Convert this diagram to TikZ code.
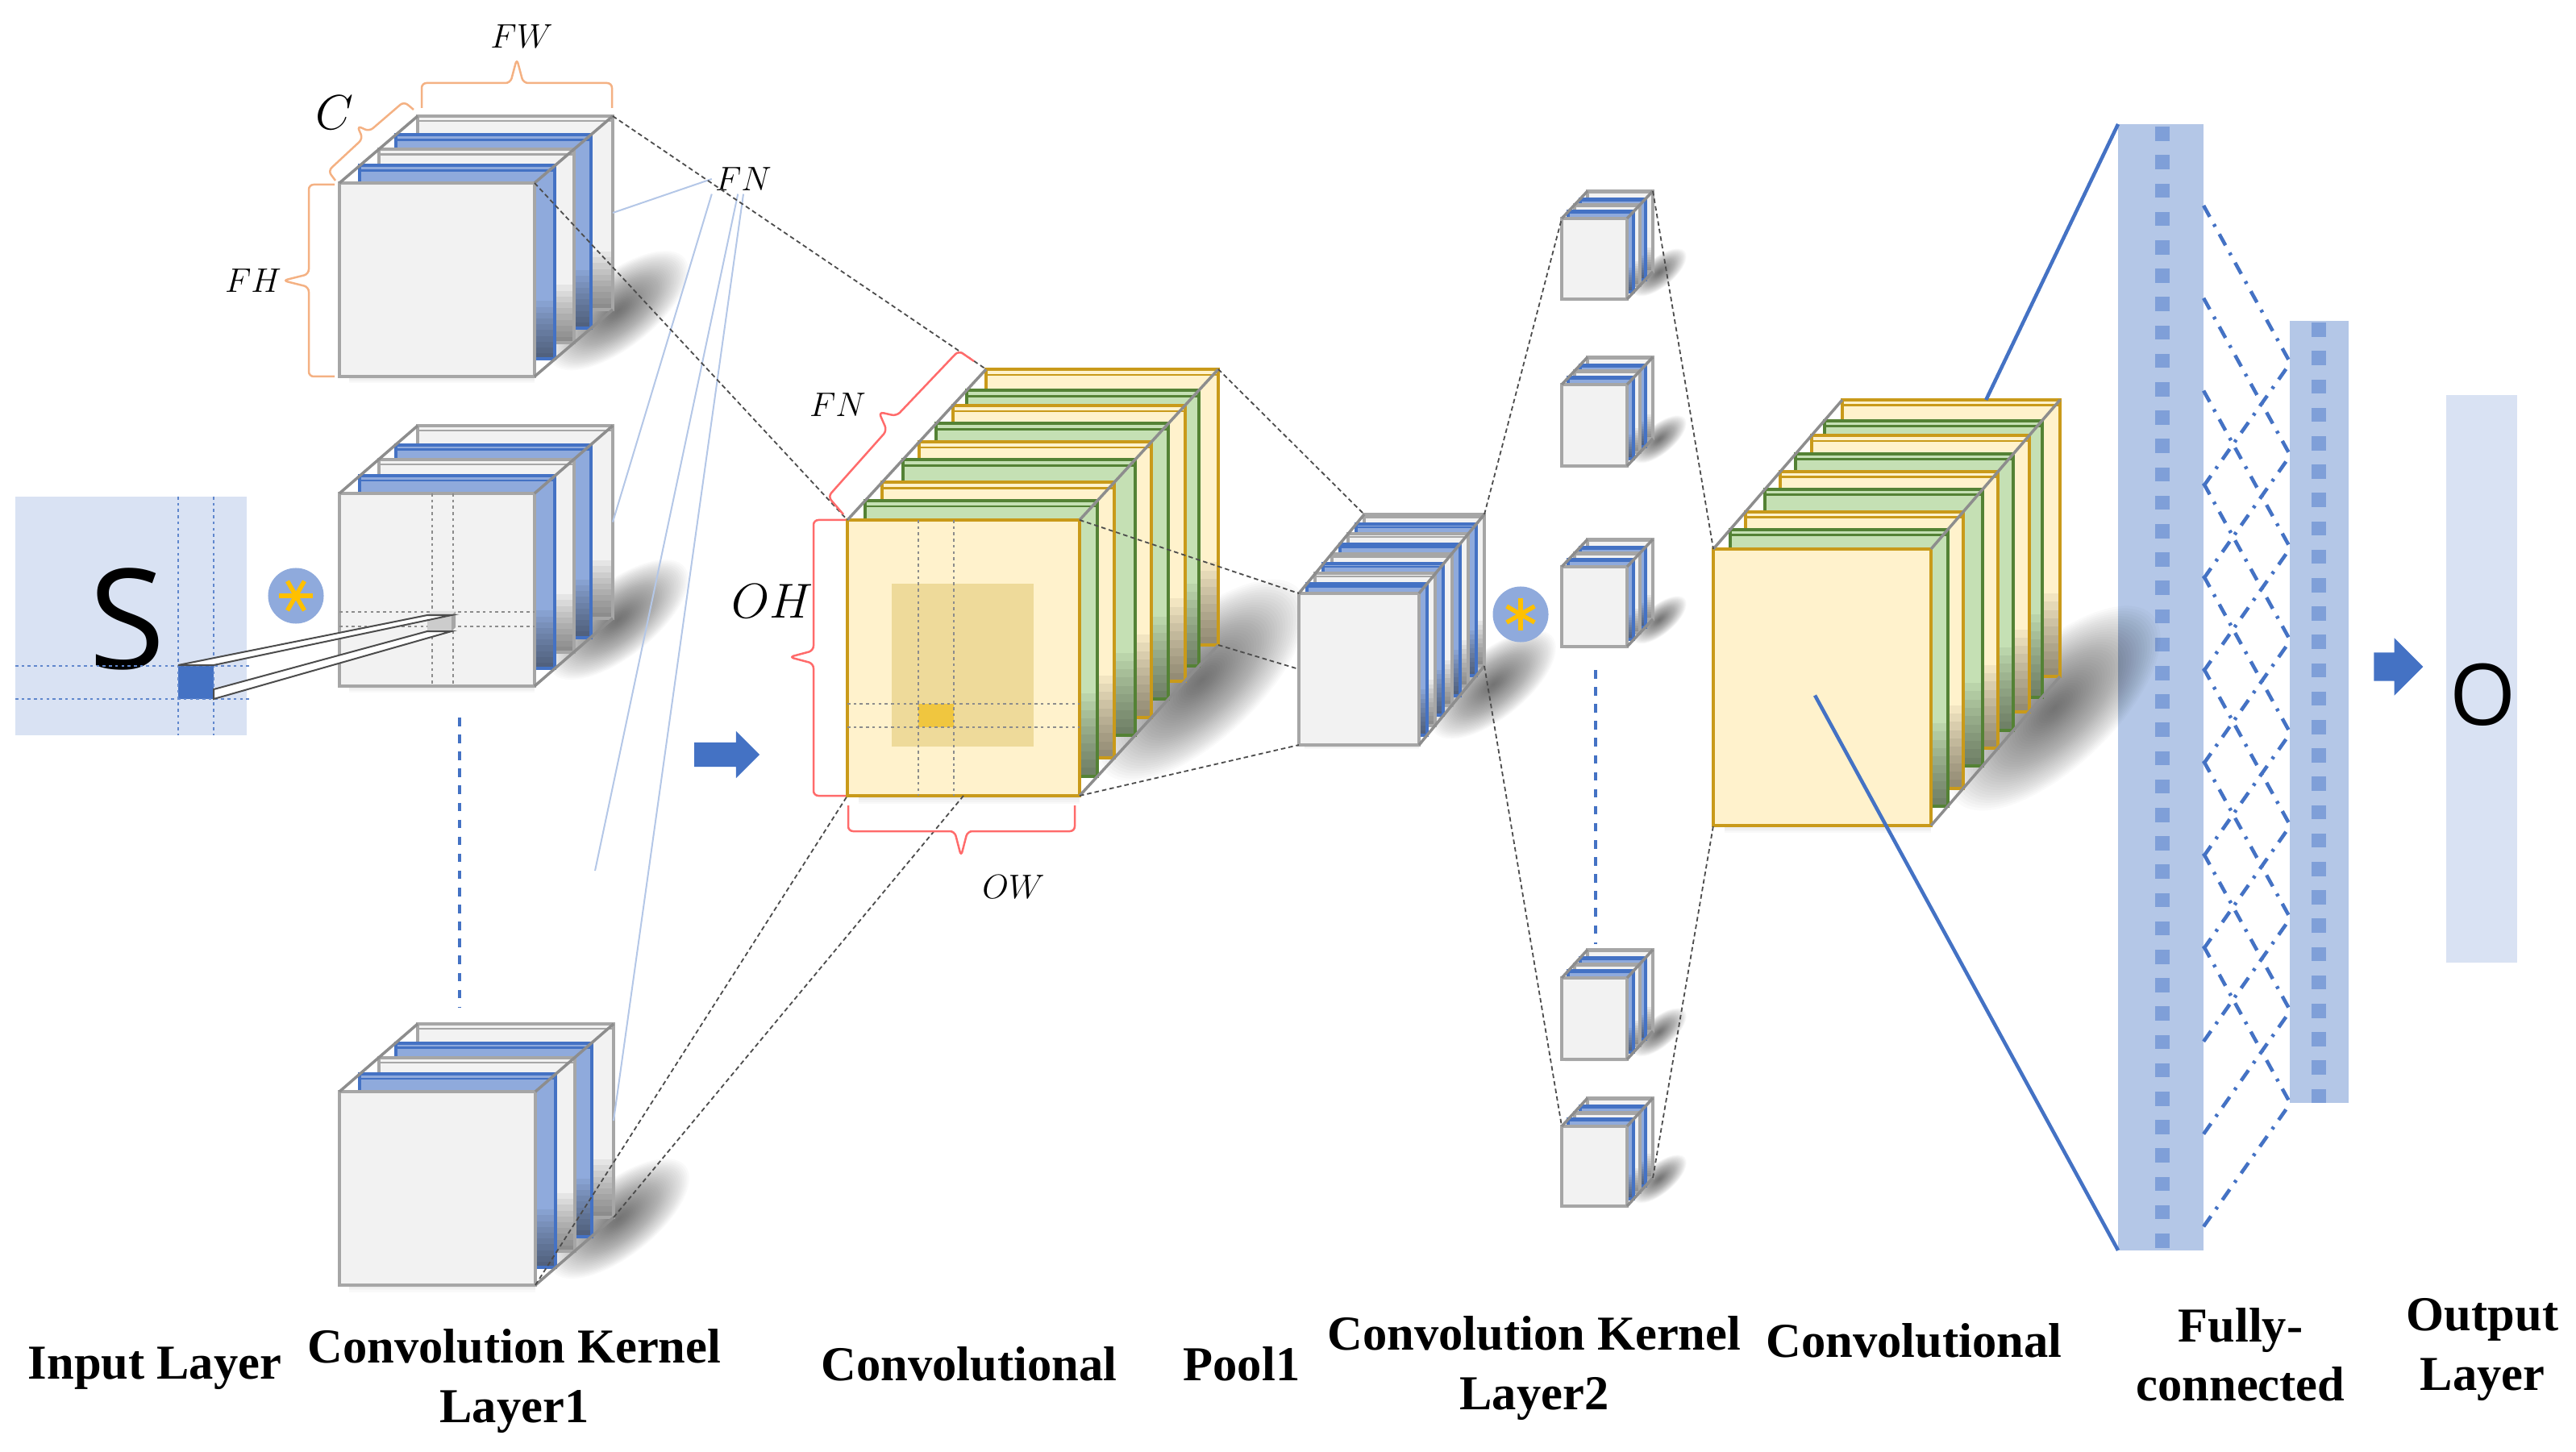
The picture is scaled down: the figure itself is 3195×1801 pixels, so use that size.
\documentclass[tikz,border=0pt]{standalone}
\usepackage{fontspec}
\setmainfont{Liberation Serif}
\newfontfamily\glyphfont{Open Sans}
\usetikzlibrary{calc,shapes.arrows}
\definecolor{inputblue}{HTML}{D9E2F3}
\definecolor{barblue}{HTML}{B4C7E7}
\definecolor{cellblue}{HTML}{7F9FD8}
\definecolor{edgeblue}{HTML}{4472C4}
\definecolor{fillblue}{HTML}{8FAADC}
\definecolor{edgegrey}{HTML}{A6A6A6}
\definecolor{fillgrey}{HTML}{F2F2F2}
\definecolor{edgegold}{HTML}{C99A1A}
\definecolor{fillcream}{HTML}{FFF2CC}
\definecolor{edgegreen}{HTML}{548235}
\definecolor{fillgreen}{HTML}{C5E0B4}
\definecolor{braceorange}{HTML}{F4B183}
\definecolor{bracered}{HTML}{FF6B6B}
\definecolor{windowgold}{HTML}{EEDA9A}
\definecolor{hitgold}{HTML}{F0C63F}
\definecolor{stargold}{HTML}{FFC000}
\tikzset{
  plate/.style 2 args={draw=#1, fill=#2, line width=.04cm, inner sep=0pt, outer sep=0pt, anchor=north west,
    path picture={
      \foreach \share in {.03,.06,.09,.12,.15,.18,.21,.24,.27,.30}
        \fill[black, opacity=.05]
          ($(path picture bounding box.south west)!\share!(path picture bounding box.north east)$)
          rectangle (path picture bounding box.south east);
      \draw[#1, line width=.025cm]
        ([yshift=-\plategap*.01cm]path picture bounding box.north west) --
        ([yshift=-\plategap*.01cm]path picture bounding box.north east);
    }},
  frontplate/.style 2 args={draw=#1, fill=#2, line width=.045cm, inner sep=0pt, outer sep=0pt, anchor=north west},
  greyplate/.style={plate={edgegrey}{fillgrey}},
  blueplate/.style={plate={edgeblue}{fillblue}},
  yellowplate/.style={plate={edgegold}{fillcream}},
  greenplate/.style={plate={edgegreen}{fillgreen}},
  greyfront/.style={frontplate={edgegrey}{fillgrey}},
  yellowfront/.style={frontplate={edgegold}{fillcream}},
  stackedge/.style={edgegrey!85!black, line width=.035cm},
  bar/.style={inner sep=0pt, outer sep=0pt, anchor=north west},
  barcell/.style={fill=cellblue, inner sep=0pt, minimum width=.18cm, minimum height=.175cm},
  blockarrow/.style={single arrow, fill=edgeblue, inner sep=0pt, text width=0pt, text depth=0pt, single arrow head indent=0pt},
  starcircle/.style={circle, fill=fillblue, inner sep=0pt, minimum size=.69cm},
  starline/.style={draw=stargold, line width=.055cm},
  guide/.style={draw=black!70, line width=.018cm, dash pattern=on 1.6pt off 1.1pt},
  gridline/.style={black!45, line width=.012cm, dash pattern=on 1pt off 1.2pt},
  griddot/.style={edgeblue!85, line width=.018cm, dash pattern=on 1pt off 1.2pt},
  faintline/.style={barblue, line width=.02cm},
  mainline/.style={edgeblue, line width=.045cm},
  dropline/.style={edgeblue, line width=.045cm, dashed},
  linkline/.style={edgeblue, line width=.045cm, dash pattern=on 4.5pt off 3pt on 1pt off 3pt},
  tube/.style={fill=white, draw=black!70, line width=.02cm},
  brace/.style={line width=.025cm, rounded corners=.06cm},
  layername/.style={font=\fontsize{17.2}{20.8}\selectfont\bfseries, align=center, inner sep=0pt},
  dimname/.style={inner sep=1pt, font=\fontsize{12}{14}\selectfont},
  bigdimname/.style={inner sep=1pt, font=\fontsize{17.28}{20}\selectfont},
}
\newcommand{\kernelplates}{1/greyplate/b, .72/blueplate/p3, .5/greyplate/p2, .26/blueplate/p1, 0/greyfront/f}
\newcommand{\convplates}{1/yellowplate/b, .86/greenplate/p7, .76/yellowplate/p6, .64/greenplate/p5, .52/yellowplate/p4, .40/greenplate/p3, .25/yellowplate/p2, .13/greenplate/p1, 0/yellowfront/f}
\newcommand{\poolplates}{1/greyplate/b, .875/blueplate/p7, .75/greyplate/p6, .625/blueplate/p5, .5/greyplate/p4, .375/blueplate/p3, .25/greyplate/p2, .125/blueplate/p1, 0/greyfront/f}
% name, left, top, width, height, depth x, depth y, plates, tip of the shadow
\newcommand{\platestack}[9]{
  \pgfmathsetmacro{\backx}{#2+#4+#6}
  \pgfmathsetmacro{\backy}{#3+#5+#7}
  \pgfmathsetmacro{\tipx}{\backx+{#9}[0]}
  \pgfmathsetmacro{\tipy}{\backy+{#9}[1]}
  \pgfmathsetmacro{\spanlen}{veclen(\tipx-#2-#4,\tipy-#3-#5)}
  \pgfmathsetmacro{\spanang}{atan2(#3+#5-\tipy,\tipx-#2-#4)}
  \pgfmathsetmacro{\midx}{.42*(#2+#4)+.58*\tipx}
  \pgfmathsetmacro{\midy}{.42*(#3+#5)+.58*\tipy}
  \pgfmathsetmacro{\plategap}{.025*#4}
  \foreach \k in {1,...,40}
    \fill[black, opacity=.02, rotate around={\spanang:(\midx,\midy)}]
      (\midx,\midy) ellipse ({\k/40*.46*\spanlen} and {\k/40*.2*\spanlen});
  \foreach \share in {.25,.5,.75,1}
    \draw[black, opacity=.025, line width=\share*.07*#4*.01cm]
      (#2+.05*#4,#3+#5) -- (#2+#4,#3+#5);
  \foreach \pos/\look/\nam in #8
    \node[\look, minimum width=#4*.01cm, minimum height=#5*.01cm] (#1-\nam) at (#2+\pos*#6,#3+\pos*#7) {};
  \draw[stackedge] (#1-f.north west) -- (#1-b.north west);
  \draw[stackedge] (#1-f.north east) -- (#1-b.north east);
  \draw[stackedge] (#1-f.south east) -- (#1-b.south east);
}
\begin{document}
\begin{tikzpicture}[x=.01cm, y=-.01cm]
\useasboundingbox (0,0) rectangle (3195,1801);

% Input layer
\node[bar, fill=inputblue, minimum width=2.87cm, minimum height=2.96cm] (input) at (19,616) {};
\node[font=\glyphfont\fontsize{49}{49}\selectfont, inner sep=0pt] (letterS) at (158,768) {S};
\node[bar, fill=edgeblue, minimum width=.44cm, minimum height=.42cm] (patch) at (221,825) {};
\foreach \xpos in {221,265}
  \draw[griddot] (\xpos,616) -- (\xpos,912);
\foreach \ypos in {826,867}
  \draw[griddot] (19,\ypos) -- (310,\ypos);

% Fully-connected bars
\node[bar, fill=barblue, minimum width=1.06cm, minimum height=13.96cm] (fcA) at (2627,154) {};
\node[bar, fill=barblue, minimum width=.73cm, minimum height=9.69cm] (fcB) at (2840,398) {};
\node[bar, fill=inputblue, minimum width=.88cm, minimum height=7.04cm] (output) at (3034,490) {};
\foreach \k in {0,...,39}
  \node[barcell] (cellA\k) at (2682,166+\k*35.2) {};
\foreach \k in {0,...,27}
  \node[barcell] (cellB\k) at (2876,409+\k*35.2) {};
\node[font=\glyphfont\fontsize{30}{30}\selectfont, inner sep=0pt] (letterO) at (3080,862) {O};
\foreach \k in {0,...,8} {
  \draw[linkline] ($(fcA.north east)+(0,101+\k*114.8)$) -- ($(fcB.north west)+(0,51+\k*114.8)$);
  \draw[linkline] ($(fcA.north east)+(0,449+\k*114.8)$) -- ($(fcB.north west)+(0,53+\k*114.8)$);
}

% FN leader lines
\node[dimname] (fnkernel) at (922,222) {$FN$};
\coordinate (fnend) at (738,1080);
\coordinate (dotsAtop) at (570,890);
\coordinate (dotsAbot) at (570,1250);
\coordinate (dotsBtop) at (1979,831);
\coordinate (dotsBbot) at (1979,1171);

% Kernel stacks
\platestack{kA}{421}{227}{242}{240}{97}{-83}{\kernelplates}{82,-58}
\platestack{kB}{421}{612}{242}{239}{97}{-84}{\kernelplates}{82,-58}
\platestack{kC}{421}{1354}{243}{240}{97}{-84}{\kernelplates}{82,-58}
\draw[faintline] (fnkernel.west) -- (kA-b.east);
\draw[faintline] (fnkernel.south west) -- (kB-b.east);
\draw[faintline] (fnkernel.250) -- (fnend);
\draw[faintline] (fnkernel.south) -- (kC-b.east);
\draw[dropline] (dotsAtop) -- (dotsAbot);

% Convolution, pool and second kernels
\platestack{convA}{1051}{645}{288}{342}{172}{-187}{\convplates}{89,-60}
\platestack{pool}{1611}{736}{149}{188}{81}{-98}{\poolplates}{78,-31}
\platestack{sA}{1937}{271}{81}{100}{32}{-34}{\kernelplates}{37,-23}
\platestack{sB}{1937}{477}{81}{101}{32}{-34}{\kernelplates}{37,-23}
\platestack{sC}{1937}{703}{81}{99}{32}{-34}{\kernelplates}{37,-23}
\platestack{sD}{1937}{1213}{81}{101}{32}{-35}{\kernelplates}{37,-23}
\platestack{sE}{1937}{1397}{81}{99}{32}{-35}{\kernelplates}{37,-23}
\platestack{convB}{2125}{681}{270}{343}{160}{-185}{\convplates}{104,-66}
\draw[dropline] (dotsBtop) -- (dotsBbot);

% Marks on the first convolution map
\node[bar, fill=windowgold, minimum width=1.76cm, minimum height=2.02cm] (window) at (1106,724) {};
\node[bar, fill=hitgold, minimum width=.44cm, minimum height=.29cm] (hit) at (1139,873) {};
\foreach \xpos in {1139,1183}
  \draw[gridline] (\xpos,645) -- (\xpos,987);
\foreach \ypos in {873,902}
  \draw[gridline] (1051,\ypos) -- (1339,\ypos);

% Marks on the kernel and the tube
\foreach \xpos in {536,562}
  \draw[gridline] (\xpos,612) -- (\xpos,851);
\foreach \ypos in {759,777}
  \draw[gridline] (421,\ypos) -- (663,\ypos);
\node[bar, fill=black!20, minimum width=.3cm, minimum height=.2cm] (cell) at (530,763) {};
\fill[black!35] (cell.north east) -- ++(5,-5) -- ++(0,20) -- (cell.south east) -- cycle;
\fill[black!12] (cell.north west) -- ++(5,-5) -- ++(30,0) -- (cell.north east) -- cycle;
\path[tube] (patch.north west) -- (cell.north west) -- (cell.north east) -- (patch.north east) -- cycle;
\path[tube] (patch.south east) -- (cell.south east) -- (cell.south west) -- ($(patch.south east)+(0,-12)$) -- cycle;

% Connections between layers
\draw[guide] (kA-b.north east) -- (convA-b.north west);
\draw[guide] (kA-f.north east) -- (convA-f.north west);
\draw[guide] (kC-f.south east) -- (convA-f.south west);
\draw[guide] (kC-b.south east) -- (convA-f.south);
\draw[guide] (convA-f.north east) -- (pool-f.north west);
\draw[guide] (convA-b.north east) -- (pool-b.north west);
\draw[guide] (convA-b.south east) -- (pool-f.west);
\draw[guide] (convA-f.south east) -- (pool-f.south west);
\draw[guide] (pool-b.north east) -- (sA-f.north west);
\draw[guide] (pool-b.south east) -- (sE-f.north west);
\draw[guide] (sA-b.north east) -- (convB-f.north west);
\draw[guide] (sE-b.south east) -- (convB-f.south west);
\draw[mainline] ($(convB-b.north west)!.66!(convB-b.north east)$) -- (fcA.north west);
\draw[mainline] ($(convB-f.center)+(-9,10)$) -- (fcA.south west);

% Convolution marks and arrows
\node[starcircle] (starA) at (367,739) {};
\foreach \ang in {0,60,120}
  \draw[starline] ($(starA)+(\ang:21)$) -- ($(starA)+(\ang+180:21)$);
\node[starcircle] (starB) at (1886,762) {};
\foreach \ang in {30,90,150}
  \draw[starline] ($(starB)+(\ang:20)$) -- ($(starB)+(\ang+180:20)$);
\node[blockarrow, minimum height=.81cm, text height=.29cm, single arrow head extend=.14cm] (arrowA) at (894,936) {};
\node[blockarrow, minimum height=.61cm, text height=.34cm, single arrow head extend=.18cm] (arrowB) at (2966,827) {};

% Dimension braces
\draw[brace, braceorange] (523,134) -- (523,103) -- (633,103) -- (641,73) -- (649,103) -- (759,103) -- (759,134);
\draw[brace, braceorange] (416,224) -- (407,212) -- (450,172) -- (443,156) -- (458,163) -- (501,126) -- (513,136);
\draw[brace, braceorange] (415,229) -- (383,229) -- (383,340) -- (351,348) -- (383,356) -- (383,467) -- (415,467);
\draw[brace, bracered] (1046,638) -- (1027,616) -- (1100,534) -- (1090,511) -- (1112,516) -- (1189,435) -- (1208,448);
\draw[brace, bracered] (1049,645) -- (1009,645) -- (1009,807) -- (979,815) -- (1009,823) -- (1009,987) -- (1049,987);
\draw[brace, bracered] (1052,999) -- (1052,1031) -- (1184,1031) -- (1192,1062) -- (1200,1031) -- (1333,1031) -- (1333,999);
\node[dimname] (fwname) at (647,45) {$FW$};
\node[bigdimname] (cname) at (415,140) {$C$};
\node[dimname] (fhname) at (314,348) {$FH$};
\node[dimname] (fnname) at (1039,502) {$FN$};
\node[bigdimname] (ohname) at (958,746) {$OH$};
\node[dimname] (owname) at (1257,1100) {$OW$};

% Layer names
\node[layername] (inputname) at (192,1697) {Input Layer};
\node[layername] (kernelAname) at (638,1713) {Convolution Kernel\\Layer1};
\node[layername] (convAname) at (1202,1692) {Convolutional};
\node[layername] (poolname) at (1540,1692) {Pool1};
\node[layername] (kernelBname) at (1903,1697) {Convolution Kernel\\Layer2};
\node[layername] (convBname) at (2374,1663) {Convolutional};
\node[layername] (fcname) at (2779,1680) {Fully-\\connected};
\node[layername] (outputname) at (3079,1674) {Output\\Layer};
\end{tikzpicture}
\end{document}
